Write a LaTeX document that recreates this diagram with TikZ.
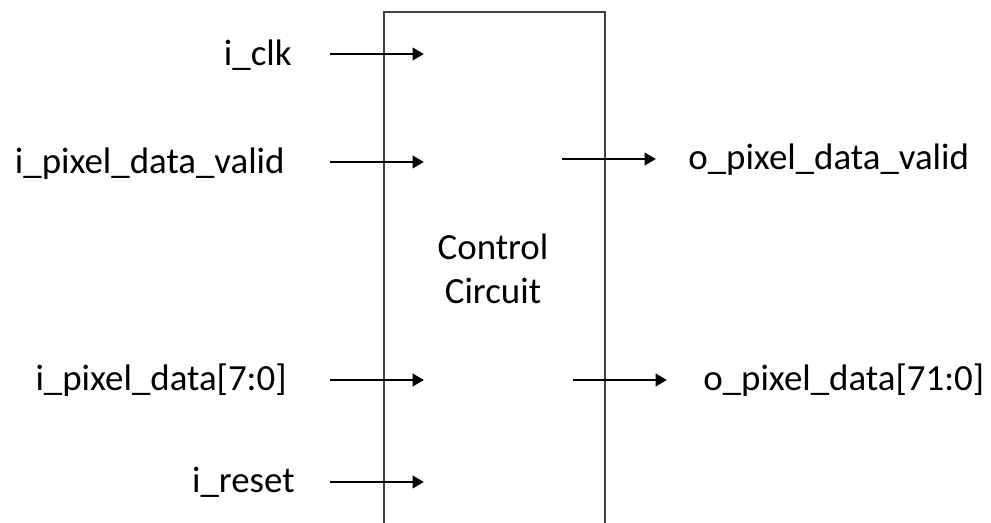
\documentclass[tikz,border=0pt]{standalone}
\usepackage{fontspec}
\setmainfont{Carlito}
\usetikzlibrary{arrows.meta, positioning}

\begin{document}
\begin{tikzpicture}[x=0.02cm, y=-0.02cm,
        arr/.style={-{Triangle[length=6.5pt, width=7pt]}, line width=1.6pt},
        sig/.style={font=\fontsize{21}{25}\selectfont, inner sep=0pt}
      ]
        \clip (0,0) rectangle (991,523);

        % Block
        \node[draw=black!75, line width=0.8pt, minimum width=4.42cm,
              minimum height=10.96cm, inner sep=0pt] (ctrl) at (494.5, 286) {};
        \node[sig, align=center] (title) at (493, 269) {Control\\Circuit};

        % Inputs
        \node[sig, anchor=base east] (clk) at (292, 65.5) {i\_clk};
        \node[sig, anchor=base east] (valid) at (285, 174) {i\_pixel\_data\_valid};
        \node[sig, anchor=base east] (data) at (287, 391) {i\_pixel\_data[7:0]};
        \node[sig, anchor=base east] (reset) at (295, 493) {i\_reset};
        \foreach \n/\y in {clk/54, valid/162, data/380, reset/482}{
          \coordinate (\n-a) at (330, \y);
          \coordinate (\n-b) at (424, \y);
          \draw[arr] (\n-a) -- (\n-b);
        }

        % Outputs
        \node[sig, anchor=base west] (ovalid) at (688, 170) {o\_pixel\_data\_valid};
        \node[sig, anchor=base west] (odata) at (703, 391) {o\_pixel\_data[71:0]};
        \coordinate (ovalid-a) at (562, 159);
        \coordinate (ovalid-b) at (656, 159);
        \coordinate (odata-a) at (573, 380);
        \coordinate (odata-b) at (667, 380);
        \draw[arr] (ovalid-a) -- (ovalid-b);
        \draw[arr] (odata-a) -- (odata-b);
      \end{tikzpicture}
\end{document}
